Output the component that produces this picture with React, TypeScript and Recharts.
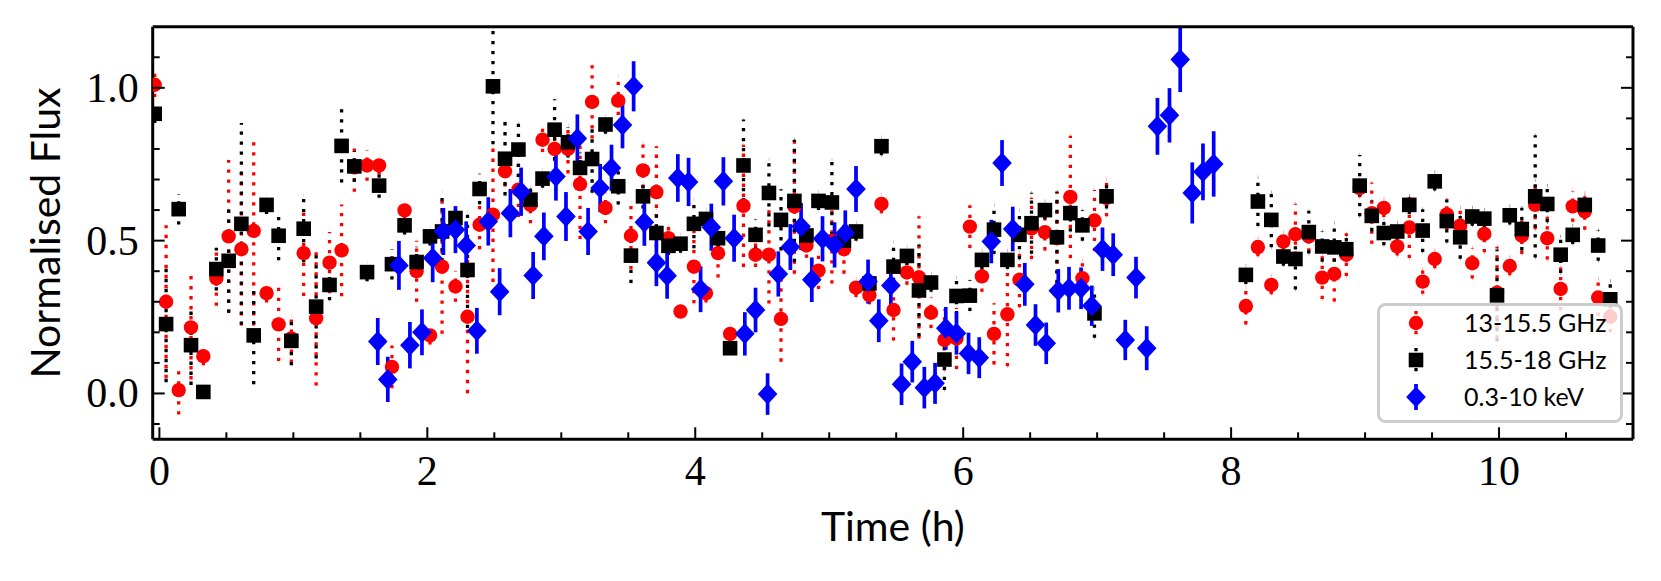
import React from "react";
import { ScatterChart, Scatter, XAxis, YAxis, ErrorBar, Legend } from "recharts";

// ---------- data ----------
const radioTime = [
  -0.035, 0.05, 0.144, 0.236, 0.328, 0.425, 0.517, 0.612, 0.704, 0.8,
  0.89, 0.985, 1.077, 1.17, 1.27, 1.36, 1.455, 1.55, 1.64, 1.736,
  1.83, 1.92, 2.02, 2.11, 2.21, 2.3, 2.39, 2.49, 2.58, 2.68,
  2.77, 2.86, 2.95, 3.05, 3.14, 3.23, 3.33, 3.425, 3.52, 3.61,
  3.71, 3.8, 3.89, 3.99, 4.08, 4.17, 4.26, 4.36, 4.45, 4.55,
  4.64, 4.74, 4.83, 4.92, 5.02, 5.11, 5.2, 5.3, 5.39, 5.48,
  5.58, 5.67, 5.76, 5.86, 5.95, 6.05, 6.14, 6.23, 6.33, 6.42,
  6.51, 6.61, 6.7, 6.8, 6.89, 6.98, 7.07, 8.11, 8.2, 8.3,
  8.39, 8.48, 8.58, 8.68, 8.77, 8.86, 8.96, 9.05, 9.14, 9.24,
  9.33, 9.43, 9.52, 9.61, 9.71, 9.8, 9.89, 9.985, 10.08, 10.17,
  10.27, 10.36, 10.46, 10.55, 10.64, 10.74, 10.83,
];

// 13-15.5 GHz
const lowBandFlux = [
  1.01, 0.3, 0.011, 0.216, 0.122, 0.377, 0.514, 0.472, 0.532, 0.328,
  0.226, 0.18, 0.459, 0.246, 0.428, 0.468, 0.74, 0.746, 0.746, 0.087,
  0.599, 0.4, 0.19, 0.415, 0.35, 0.251, 0.552, 0.585, 0.727, 0.667,
  0.617, 0.83, 0.8, 0.8, 0.685, 0.954, 0.607, 0.958, 0.516, 0.73,
  0.659, 0.508, 0.268, 0.415, 0.328, 0.459, 0.195, 0.614, 0.454, 0.454,
  0.244, 0.612, 0.484, 0.402, 0.5, 0.472, 0.346, 0.322, 0.62, 0.273,
  0.396, 0.38, 0.264, 0.175, 0.18, 0.546, 0.383, 0.195, 0.259, 0.372,
  0.54, 0.528, 0.508, 0.643, 0.377, 0.566, 0.64, 0.286, 0.479, 0.355,
  0.497, 0.521, 0.514, 0.379, 0.391, 0.454, 0.672, 0.59, 0.607, 0.481,
  0.543, 0.366, 0.44, 0.586, 0.549, 0.426, 0.522, 0.33, 0.417, 0.516,
  0.617, 0.508, 0.342, 0.612, 0.596, 0.314, 0.251,
];
const lowBandErr = [
  0.04, 0.25, 0.08, 0.17, 0.03, 0.09, 0.25, 0.25, 0.31, 0.03,
  0.12, 0.08, 0.14, 0.22, 0.1, 0.15, 0.08, 0.05, 0.03, 0.07,
  0.03, 0.1, 0.03, 0.22, 0.05, 0.25, 0.08, 0.22, 0.05, 0.09,
  0.06, 0.04, 0.04, 0.08, 0.18, 0.12, 0.05, 0.08, 0.11, 0.09,
  0.15, 0.04, 0.02, 0.12, 0.03, 0.08, 0.03, 0.2, 0.04, 0.16,
  0.14, 0.22, 0.04, 0.06, 0.14, 0.08, 0.03, 0.03, 0.03, 0.1,
  0.04, 0.2, 0.05, 0.1, 0.1, 0.07, 0.05, 0.1, 0.17, 0.09,
  0.1, 0.06, 0.15, 0.2, 0.06, 0.1, 0.06, 0.06, 0.03, 0.03,
  0.03, 0.1, 0.05, 0.07, 0.09, 0.07, 0.03, 0.1, 0.03, 0.03,
  0.1, 0.04, 0.03, 0.05, 0.06, 0.05, 0.06, 0.15, 0.03, 0.06,
  0.08, 0.07, 0.07, 0.05, 0.06, 0.06, 0.05,
];

// 15.5-18 GHz
const highBandFlux = [
  0.915, 0.227, 0.603, 0.158, 0.005, 0.407, 0.434, 0.555, 0.19, 0.617,
  0.516, 0.172, 0.539, 0.284, 0.355, 0.81, 0.743, 0.397, 0.68, 0.423,
  0.55, 0.43, 0.514, 0.53, 0.574, 0.404, 0.669, 1.005, 0.768, 0.798,
  0.634, 0.703, 0.863, 0.822, 0.738, 0.767, 0.88, 0.678, 0.451, 0.645,
  0.525, 0.483, 0.49, 0.555, 0.571, 0.508, 0.148, 0.746, 0.519, 0.656,
  0.568, 0.63, 0.517, 0.63, 0.625, 0.5, 0.53, 0.36, 0.809, 0.415,
  0.45, 0.337, 0.363, 0.111, 0.319, 0.32, 0.437, 0.536, 0.437, 0.519,
  0.557, 0.6, 0.511, 0.59, 0.55, 0.262, 0.645, 0.388, 0.628, 0.568,
  0.448, 0.44, 0.528, 0.481, 0.478, 0.472, 0.68, 0.581, 0.525, 0.53,
  0.617, 0.533, 0.694, 0.564, 0.511, 0.579, 0.572, 0.321, 0.583, 0.538,
  0.645, 0.62, 0.454, 0.519, 0.617, 0.484, 0.308,
];
const highBandErr = [
  0.03, 0.19, 0.05, 0.13, 0.02, 0.07, 0.17, 0.33, 0.16, 0.03,
  0.08, 0.08, 0.11, 0.17, 0.05, 0.12, 0.05, 0.03, 0.04, 0.05,
  0.03, 0.05, 0.03, 0.13, 0.03, 0.19, 0.05, 0.19, 0.12, 0.09,
  0.04, 0.03, 0.1, 0.05, 0.05, 0.11, 0.03, 0.06, 0.09, 0.04,
  0.08, 0.03, 0.03, 0.08, 0.03, 0.03, 0.02, 0.15, 0.05, 0.11,
  0.1, 0.2, 0.03, 0.03, 0.14, 0.05, 0.03, 0.03, 0.03, 0.08,
  0.03, 0.15, 0.03, 0.1, 0.06, 0.05, 0.03, 0.08, 0.03, 0.08,
  0.1, 0.03, 0.15, 0.06, 0.05, 0.08, 0.04, 0.03, 0.08, 0.09,
  0.03, 0.1, 0.07, 0.05, 0.08, 0.04, 0.1, 0.05, 0.04, 0.03,
  0.03, 0.07, 0.03, 0.07, 0.07, 0.03, 0.03, 0.15, 0.03, 0.07,
  0.2, 0.06, 0.06, 0.03, 0.03, 0.05, 0.06,
];

// 0.3-10 keV
const xrayTime = [
  1.63, 1.705, 1.788, 1.87, 1.96, 2.04, 2.12, 2.21, 2.29, 2.37,
  2.455, 2.54, 2.62, 2.7, 2.79, 2.87, 2.96, 3.035, 3.12, 3.2,
  3.29, 3.375, 3.457, 3.54, 3.62, 3.71, 3.79, 3.87, 3.95, 4.04,
  4.12, 4.21, 4.29, 4.37, 4.45, 4.54, 4.62, 4.71, 4.79, 4.87,
  4.95, 5.04, 5.12, 5.2, 5.29, 5.37, 5.46, 5.54, 5.62, 5.71,
  5.79, 5.87, 5.95, 6.04, 6.12, 6.21, 6.29, 6.37, 6.46, 6.54,
  6.62, 6.71, 6.79, 6.88, 6.96, 7.04, 7.12, 7.21, 7.29, 7.37,
  7.45, 7.54, 7.62, 7.71, 7.79, 7.87,
];
const xrayFlux = [
  0.17, 0.046, 0.419, 0.158, 0.2, 0.443, 0.53, 0.536, 0.484, 0.205,
  0.563, 0.333, 0.59, 0.66, 0.386, 0.514, 0.71, 0.579, 0.834, 0.53,
  0.672, 0.738, 0.878, 1.005, 0.56, 0.428, 0.385, 0.705, 0.692, 0.341,
  0.544, 0.694, 0.508, 0.195, 0.273, -0.002, 0.391, 0.479, 0.546, 0.372,
  0.506, 0.486, 0.525, 0.669, 0.366, 0.238, 0.353, 0.03, 0.104, 0.019,
  0.033, 0.213, 0.197, 0.131, 0.117, 0.497, 0.754, 0.538, 0.357, 0.224,
  0.164, 0.336, 0.344, 0.344, 0.287, 0.472, 0.454, 0.175, 0.379, 0.148,
  0.874, 0.91, 1.093, 0.656, 0.725, 0.751,
];
const xrayErr = [
  0.077, 0.074, 0.08, 0.076, 0.075, 0.079, 0.077, 0.077, 0.079, 0.075,
  0.079, 0.077, 0.079, 0.079, 0.077, 0.078, 0.079, 0.08, 0.079, 0.077,
  0.079, 0.076, 0.076, 0.082, 0.077, 0.077, 0.075, 0.078, 0.079, 0.075,
  0.077, 0.079, 0.077, 0.071, 0.073, 0.068, 0.074, 0.075, 0.077, 0.073,
  0.074, 0.074, 0.074, 0.075, 0.072, 0.07, 0.074, 0.068, 0.068, 0.068,
  0.067, 0.07, 0.07, 0.068, 0.067, 0.071, 0.075, 0.073, 0.07, 0.068,
  0.068, 0.071, 0.07, 0.068, 0.066, 0.071, 0.07, 0.066, 0.068, 0.072,
  0.093, 0.089, 0.107, 0.1, 0.093, 0.107,
];

// ticks
const xTicks = [0, 0.5, 1, 1.5, 2, 2.5, 3, 3.5, 4, 4.5, 5, 5.5, 6, 6.5, 7, 7.5, 8, 8.5, 9, 9.5, 10, 10.5];
const xMajorTicks = [0, 2, 4, 6, 8, 10];
const yTicks = [-0.1, 0, 0.1, 0.2, 0.3, 0.4, 0.5, 0.6, 0.7, 0.8, 0.9, 1.0, 1.1];
const yMajorTicks = [0, 0.5, 1.0];

const seriesNames = ["13-15.5 GHz", "15.5-18 GHz", "0.3-10 keV"];

// ---------- build tables ----------
const lowData = radioTime.map((t, i) => ({ x: t, y: lowBandFlux[i], e: lowBandErr[i] }));
const highData = radioTime.map((t, i) => ({ x: t, y: highBandFlux[i], e: highBandErr[i] }));
const xrayData = xrayTime.map((t, i) => ({ x: t, y: xrayFlux[i], e: xrayErr[i] }));

// ---------- styling ----------
const W = 1661;
const H = 581;
const PLOT_LEFT = 152.7;
const PLOT_RIGHT = 1633;
const PLOT_TOP = 26.7;
const PLOT_BOTTOM = 439.3;
const RED = "#ff0000";
const BLUE = "#0000ff";
const BLACK = "#000000";
const SERIF = "'Liberation Serif', 'DejaVu Serif', serif";
const SANS = "Lato, 'Noto Sans', sans-serif";
const MAJOR_LEN = 12;
const MINOR_LEN = 7;
const TICK_W = 2;
const DOT_DASH = "3.3 6.7";

const isMajor = (v: number, majors: number[]) => majors.some((m) => Math.abs(m - v) < 1e-6);

const BottomTick = (props: any) => {
  const { x, y, payload } = props;
  const v = payload.value;
  const major = isMajor(v, xMajorTicks);
  return (
    <g>
      <line x1={x} x2={x} y1={y} y2={y - (major ? MAJOR_LEN : MINOR_LEN)} stroke={BLACK} strokeWidth={TICK_W} />
      {major && (
        <text x={x} y={y + 46} textAnchor="middle" fontFamily={SERIF} fontSize={42} fill={BLACK}>
          {String(v)}
        </text>
      )}
    </g>
  );
};

const TopTick = (props: any) => {
  const { x, y, payload } = props;
  const major = isMajor(payload.value, xMajorTicks);
  return <line x1={x} x2={x} y1={y} y2={y + (major ? MAJOR_LEN : MINOR_LEN)} stroke={BLACK} strokeWidth={TICK_W} />;
};

const LeftTick = (props: any) => {
  const { x, y, payload } = props;
  const v = payload.value;
  const major = isMajor(v, yMajorTicks);
  return (
    <g>
      <line x1={x} x2={x + (major ? MAJOR_LEN : MINOR_LEN)} y1={y} y2={y} stroke={BLACK} strokeWidth={TICK_W} />
      {major && (
        <text x={x - 14} y={y + 14} textAnchor="end" fontFamily={SERIF} fontSize={42} fill={BLACK}>
          {Number(v).toFixed(1)}
        </text>
      )}
    </g>
  );
};

const RightTick = (props: any) => {
  const { x, y, payload } = props;
  const major = isMajor(payload.value, yMajorTicks);
  return <line x1={x} x2={x - (major ? MAJOR_LEN : MINOR_LEN)} y1={y} y2={y} stroke={BLACK} strokeWidth={TICK_W} />;
};

const XLabel = () => (
  <text x={(PLOT_LEFT + PLOT_RIGHT) / 2} y={PLOT_BOTTOM + 102} textAnchor="middle" fontFamily={SANS} fontSize={41} fill={BLACK}>
    Time (h)
  </text>
);

const YLabel = () => {
  const cx = 60;
  const cy = (PLOT_TOP + PLOT_BOTTOM) / 2;
  return (
    <text x={cx} y={cy} transform={`rotate(-90 ${cx} ${cy})`} textAnchor="middle" fontFamily={SANS} fontSize={41} fill={BLACK}>
      Normalised Flux
    </text>
  );
};

// ---------- markers ----------
const Circle = (p: any) => <circle cx={p.cx} cy={p.cy} r={7.2} fill={RED} />;
const Square = (p: any) => <rect x={p.cx - 7.3} y={p.cy - 7.3} width={14.6} height={14.6} fill={BLACK} />;
const Diamond = (p: any) => (
  <path d={`M${p.cx},${p.cy - 10.5} L${p.cx + 9.8},${p.cy} L${p.cx},${p.cy + 10.5} L${p.cx - 9.8},${p.cy} Z`} fill={BLUE} />
);

const LegendMarker = ({ kind, cx, cy }: { kind: number; cx: number; cy: number }) => {
  if (kind === 0)
    return (
      <g>
        <line x1={cx} x2={cx} y1={cy - 12} y2={cy + 12} stroke={RED} strokeWidth={3.3} strokeDasharray={DOT_DASH} />
        <Circle cx={cx} cy={cy} />
      </g>
    );
  if (kind === 1)
    return (
      <g>
        <line x1={cx} x2={cx} y1={cy - 12} y2={cy + 12} stroke={BLACK} strokeWidth={3.3} strokeDasharray={DOT_DASH} />
        <Square cx={cx} cy={cy} />
      </g>
    );
  return (
    <g>
      <line x1={cx} x2={cx} y1={cy - 13} y2={cy + 13} stroke={BLUE} strokeWidth={3.7} />
      <Diamond cx={cx} cy={cy} />
    </g>
  );
};

const LegendBox = (props: any) => {
  const payload = (props && props.payload) || [];
  return (
    <svg width={246} height={120} style={{ display: "block" }}>
      <rect x={1.5} y={1.5} width={243} height={117} rx={7} ry={7} fill="#ffffff" fillOpacity={0.8} stroke="#cccccc" strokeWidth={3} />
      {payload.map((it: any, i: number) => {
        const kind = Math.max(0, seriesNames.indexOf(String(it.value)));
        const cy = 20 + kind * 37;
        return (
          <g key={i}>
            <LegendMarker kind={kind} cx={39} cy={cy} />
            <text x={87} y={cy + 9} fontFamily={SANS} fontSize={25} fill={BLACK}>
              {it.value}
            </text>
          </g>
        );
      })}
    </svg>
  );
};

export default function App() {
  return (
    <div style={{ position: "absolute", left: 0, top: 0, width: W, height: H, background: "#fff" }}>
      <style>{`body{margin:0;background:#fff;}`}</style>
      <ScatterChart width={W} height={H} margin={{ top: 0, right: 0, bottom: 0, left: 0 }}>
        <XAxis
          xAxisId={0}
          type="number"
          dataKey="x"
          domain={[-0.05, 11]}
          allowDataOverflow
          ticks={xTicks}
          interval={0}
          height={H - PLOT_BOTTOM}
          tickSize={0}
          tickMargin={0}
          tickLine={false}
          tick={BottomTick}
          axisLine={{ stroke: BLACK, strokeWidth: 3 }}
          label={XLabel}
        />
        <XAxis
          xAxisId="top"
          orientation="top"
          type="number"
          domain={[-0.05, 11]}
          allowDataOverflow
          ticks={xTicks}
          interval={0}
          height={PLOT_TOP}
          tickSize={0}
          tickMargin={0}
          tickLine={false}
          tick={TopTick}
          axisLine={{ stroke: BLACK, strokeWidth: 3 }}
        />
        <YAxis
          yAxisId={0}
          type="number"
          dataKey="y"
          domain={[-0.15, 1.2]}
          allowDataOverflow
          ticks={yTicks}
          interval={0}
          width={PLOT_LEFT}
          tickSize={0}
          tickMargin={0}
          tickLine={false}
          tick={LeftTick}
          axisLine={{ stroke: BLACK, strokeWidth: 3 }}
          label={YLabel}
        />
        <YAxis
          yAxisId="right"
          orientation="right"
          type="number"
          domain={[-0.15, 1.2]}
          allowDataOverflow
          ticks={yTicks}
          interval={0}
          width={W - PLOT_RIGHT}
          tickSize={0}
          tickMargin={0}
          tickLine={false}
          tick={RightTick}
          axisLine={{ stroke: BLACK, strokeWidth: 3 }}
        />
        <Scatter name={seriesNames[0]} data={lowData} fill={RED} shape={Circle} isAnimationActive={false}>
          <ErrorBar dataKey="e" direction="y" width={0} stroke={RED} strokeWidth={3.3} strokeDasharray={DOT_DASH} isAnimationActive={false} />
        </Scatter>
        <Scatter name={seriesNames[1]} data={highData} fill={BLACK} shape={Square} isAnimationActive={false}>
          <ErrorBar dataKey="e" direction="y" width={0} stroke={BLACK} strokeWidth={3.3} strokeDasharray={DOT_DASH} isAnimationActive={false} />
        </Scatter>
        <Scatter name={seriesNames[2]} data={xrayData} fill={BLUE} shape={Diamond} isAnimationActive={false}>
          <ErrorBar dataKey="e" direction="y" width={0} stroke={BLUE} strokeWidth={3.7} isAnimationActive={false} />
        </Scatter>
        <Legend
          layout="vertical"
          align="center"
          verticalAlign="middle"
          content={LegendBox}
          wrapperStyle={{ left: 1377, top: 303, width: 246, height: 120 }}
        />
      </ScatterChart>
    </div>
  );
}
